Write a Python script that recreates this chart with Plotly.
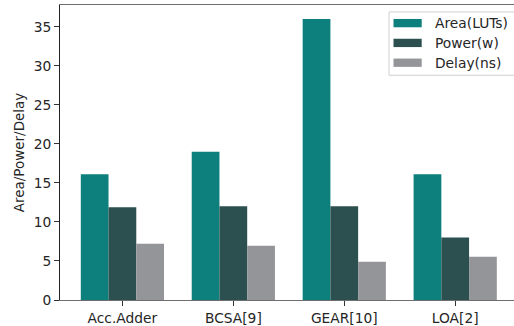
import plotly.graph_objects as go

categories = ["Acc.Adder", "BCSA[9]", "GEAR[10]", "LOA[2]"]
series_names = ["Area(LUTs)", "Power(w)", "Delay(ns)"]
area_luts = [16.1, 19.0, 36.0, 16.1]
power_w = [11.9, 12.0, 12.0, 8.0]
delay_ns = [7.2, 6.95, 4.9, 5.55]
y_ticks = [0, 5, 10, 15, 20, 25, 30, 35]

colors = ["#0d7f7d", "#2c4f4f", "#949598"]
series_values = [area_luts, power_w, delay_ns]

W, H = 514, 326
ML, MR, MT, MB = 60, 0, 5, 23
FONT = "DejaVu Sans"
TXT = "#262626"
FS = 13.8

fig = go.Figure()
for name, vals, col in zip(series_names, series_values, colors):
    fig.add_trace(go.Bar(x=list(range(len(categories))), y=vals, name=name,
                         marker=dict(color=col, line=dict(width=0)),
                         showlegend=False))

fig.update_layout(
    width=W, height=H,
    margin=dict(l=ML, r=MR, t=MT, b=MB, pad=0),
    paper_bgcolor="white", plot_bgcolor="white",
    barmode="group", bargap=0.25, bargroupgap=0,
    font=dict(family=FONT, size=FS, color=TXT),
)
fig.update_xaxes(
    range=[-0.5625, 3.53], tickmode="array",
    tickvals=list(range(len(categories))), ticktext=categories,
    showgrid=False, zeroline=False,
    showline=True, linecolor="#6f6f6f", linewidth=1, mirror=True,
    ticks="outside", ticklen=5, tickcolor="#333333", tickwidth=1,
    tickfont=dict(family=FONT, size=FS, color=TXT),
)
fig.update_yaxes(
    range=[0, 37.8], tickmode="array", tickvals=y_ticks,
    ticktext=[str(v) for v in y_ticks],
    showgrid=False, zeroline=False,
    showline=True, linecolor="#222222", linewidth=1,
    ticks="outside", ticklen=5, tickcolor="#333333", tickwidth=1,
    tickfont=dict(family=FONT, size=FS, color=TXT),
    title=dict(text="Area/Power/Delay", font=dict(family=FONT, size=13.5, color=TXT), standoff=5),
)

# custom matplotlib-style legend
pw = W - ML - MR
ph = H - MT - MB
def px(x):
    return (x - ML) / pw
def py(y):
    return (H - MB - y) / ph

fig.add_shape(type="rect", xref="paper", yref="paper",
              x0=px(389), x1=px(514.5), y0=py(76), y1=py(12),
              line=dict(color="#d0d0d0", width=1), fillcolor="rgba(255,255,255,0.9)",
              layer="above")
for i, (name, col) in enumerate(zip(series_names, colors)):
    cy = 23.3 + 20 * i
    fig.add_shape(type="rect", xref="paper", yref="paper",
                  x0=px(393.5), x1=px(421.7), y0=py(cy + 4.2), y1=py(cy - 4.2),
                  line=dict(width=0), fillcolor=col, layer="above")
    fig.add_annotation(xref="paper", yref="paper", x=px(432.5), y=py(cy),
                       text=name, showarrow=False, xanchor="left", yanchor="middle",
                       font=dict(family=FONT, size=FS, color=TXT))

fig.write_html("out.html")
